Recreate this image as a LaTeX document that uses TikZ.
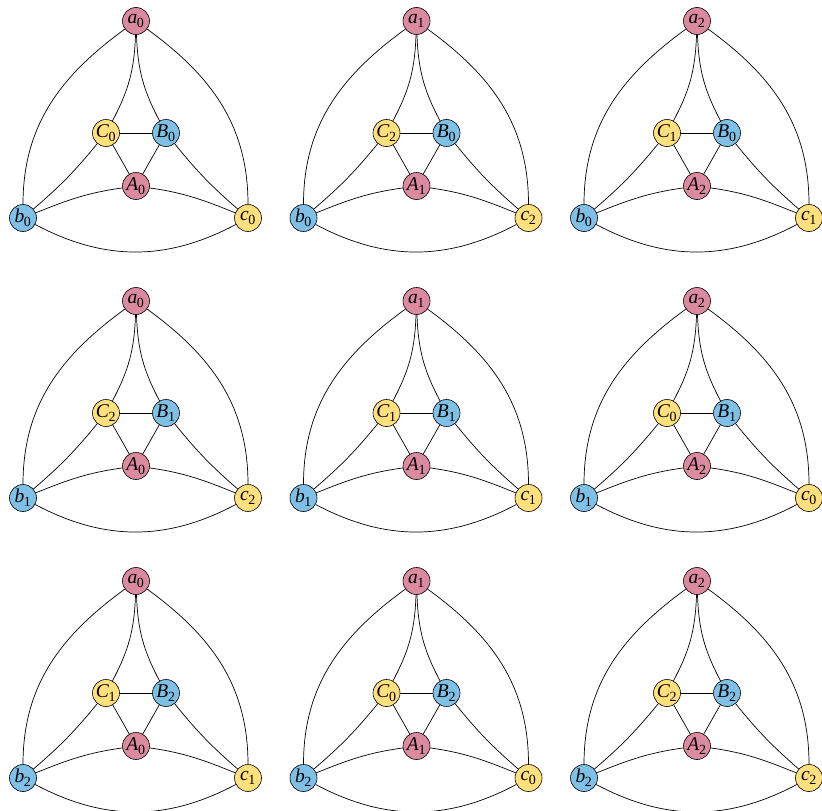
\documentclass[tikz,border=0pt]{standalone}
\usepackage{fontspec}
\setmainfont{Liberation Serif}
\definecolor{pk}{RGB}{219,138,160}
\definecolor{bl}{RGB}{126,192,230}
\definecolor{yl}{RGB}{255,224,124}
\newcommand\lab[2]{\kern-0.5pt\textit{#1}\kern-0.3pt\raisebox{-0.4ex}{\fontsize{14}{14}\selectfont #2}}
\tikzset{
  vtx/.style={circle,draw=black,line width=0.6pt,minimum size=27pt,inner sep=0pt,font=\fontsize{19.5}{19.5}\selectfont},
  pkv/.style={vtx,fill=pk},
  blv/.style={vtx,fill=bl},
  ylv/.style={vtx,fill=yl},
  edge/.style={draw=black,line width=0.7pt}
}
\newcommand\panel[9]{%
\begin{scope}[shift={(#1,#2)}]
\node[pkv] (#3a) at (136,-21) {\lab{a}{#4}};
\node[ylv] (#3C) at (106,-133) {\lab{C}{#5}};
\node[blv] (#3B) at (166,-133) {\lab{B}{#6}};
\node[pkv] (#3A) at (136,-186) {\lab{A}{#7}};
\node[blv] (#3b) at (23,-218) {\lab{b}{#8}};
\node[ylv] (#3c) at (248,-218) {\lab{c}{#9}};
\path[edge] (#3a) to[out=216,in=90] (#3b);
\path[edge] (#3a) to[out=-36,in=90] (#3c);
\path[edge] (#3b) to[bend right=28] (#3c);
\path[edge] (#3b) to[out=22,in=188] (#3A);
\path[edge] (#3A) to[out=-8,in=158] (#3c);
\path[edge] (#3a) to[bend left=13] (#3C);
\path[edge] (#3a) to[bend right=13] (#3B);
\path[edge] (#3C) -- (#3B);
\path[edge] (#3C) -- (#3A);
\path[edge] (#3B) -- (#3A);
\path[edge] (#3b) to[bend right=5] (#3C);
\path[edge] (#3c) to[bend left=5] (#3B);
\end{scope}}
\begin{document}
\begin{tikzpicture}[x=1pt,y=1pt]
\useasboundingbox (0,-811) rectangle (822,0);
\panel{0}{0}{p1}{0}{0}{0}{0}{0}{0}
\panel{280.5}{0}{p2}{1}{2}{0}{1}{0}{2}
\panel{561}{0}{p3}{2}{1}{0}{2}{0}{1}
\panel{0}{-280}{p4}{0}{2}{1}{0}{1}{2}
\panel{280.5}{-280}{p5}{1}{1}{1}{1}{1}{1}
\panel{561}{-280}{p6}{2}{0}{1}{2}{1}{0}
\panel{0}{-560}{p7}{0}{1}{2}{0}{2}{1}
\panel{280.5}{-560}{p8}{1}{0}{2}{1}{2}{0}
\panel{561}{-560}{p9}{2}{2}{2}{2}{2}{2}
\end{tikzpicture}
\end{document}
